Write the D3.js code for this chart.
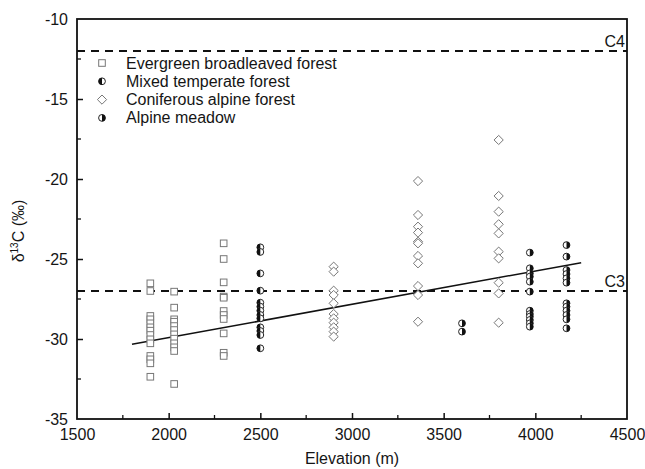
<!DOCTYPE html>
<html>
<head>
<meta charset="utf-8">
<script src="https://cdn.jsdelivr.net/npm/d3@7"></script>
<style>
  body { margin: 0; background: #fff; }
  text { font-family: "Liberation Sans", Arial, sans-serif; fill: #151515; }
</style>
</head>
<body>
<svg id="chart" width="645" height="469"></svg>
<script>
// Evergreen broadleaved forest (squares)
const evergreen1900 = [-26.52, -27.0, -28.56, -28.77, -29.02, -29.27, -29.48, -29.75, -30.02, -30.27, -31.06, -31.27, -31.52, -32.36];
const evergreen2030 = [-27.04, -28.04, -28.77, -28.92, -29.19, -29.44, -29.71, -29.98, -30.27, -30.52, -30.75, -32.81];
const evergreen2300 = [-24.02, -25.0, -26.46, -27.35, -27.42, -28.25, -28.5, -28.75, -29.65, -30.86, -31.06];
// Mixed temperate forest
const mixed2500 = [-24.27, -24.56, -25.9, -26.98, -27.73, -27.98, -28.23, -28.5, -28.71, -29.27, -29.5, -29.75, -30.58];
// Coniferous alpine forest (diamonds)
const conifer2900 = [-25.48, -25.79, -26.98, -27.25, -27.77, -28.44, -28.71, -28.98, -29.27, -29.54, -29.85];
const conifer3360 = [-20.13, -22.25, -22.98, -23.35, -23.92, -24.02, -24.81, -25.27, -26.69, -27.25, -28.92];
const conifer3800 = [-17.56, -21.06, -22.04, -22.83, -23.4, -24.54, -24.96, -26.48, -27.15, -28.98];
// Alpine meadow
const meadow3600 = [-29.02, -29.54];
const meadow3970 = [-24.6, -25.58, -25.9, -26.1, -26.42, -27.04, -28.23, -28.44, -28.6, -28.81, -29.02, -29.23];
const meadow4170 = [-24.13, -24.85, -25.69, -25.94, -26.21, -26.48, -27.77, -27.98, -28.23, -28.5, -28.77, -29.33];

const fitLine = [[1800, -30.33], [4250, -25.23]];
const refLines = [{ value: -12, label: 'C4' }, { value: -27, label: 'C3' }];
const legendLabels = ['Evergreen broadleaved forest', 'Mixed temperate forest', 'Coniferous alpine forest', 'Alpine meadow'];
const xTicks = [1500, 2000, 2500, 3000, 3500, 4000, 4500];
const yTicks = [-10, -15, -20, -25, -30, -35];

const groups = [
  { kind: 'square', elev: 1900, values: evergreen1900 },
  { kind: 'square', elev: 2030, values: evergreen2030 },
  { kind: 'square', elev: 2300, values: evergreen2300 },
  { kind: 'mixed', elev: 2500, values: mixed2500 },
  { kind: 'diamond', elev: 2900, values: conifer2900 },
  { kind: 'diamond', elev: 3360, values: conifer3360 },
  { kind: 'diamond', elev: 3800, values: conifer3800 },
  { kind: 'meadow', elev: 3600, values: meadow3600 },
  { kind: 'meadow', elev: 3970, values: meadow3970 },
  { kind: 'meadow', elev: 4170, values: meadow4170 }
];

const FONT = 16;
const svg = d3.select('#chart');
const x = d3.scaleLinear().domain([1500, 4500]).range([77, 627]);
const y = d3.scaleLinear().domain([-35, -10]).range([419, 19]);

// minor ticks
const g = svg.append('g');
g.selectAll('.xminor').data(d3.range(1750, 4500, 500)).join('line')
  .attr('x1', d => x(d)).attr('x2', d => x(d)).attr('y1', 419).attr('y2', 415)
  .attr('stroke', '#111').attr('stroke-width', 1.3);
g.selectAll('.yminor').data(d3.range(-32.5, -10, 5)).join('line')
  .attr('y1', d => y(d)).attr('y2', d => y(d)).attr('x1', 77).attr('x2', 81)
  .attr('stroke', '#111').attr('stroke-width', 1.3);

const xAxis = svg.append('g').attr('transform', 'translate(0,419)')
  .call(d3.axisBottom(x).tickValues(xTicks).tickSizeInner(-6).tickSizeOuter(0).tickPadding(10).tickFormat(d3.format('d')));
const yAxis = svg.append('g').attr('transform', 'translate(77,0)')
  .call(d3.axisLeft(y).tickValues(yTicks).tickSizeInner(-6).tickSizeOuter(0).tickPadding(9).tickFormat(d => d3.format('d')(d).replace('−', '-')));
[xAxis, yAxis].forEach(a => {
  a.selectAll('text').attr('font-size', FONT).attr('fill', '#151515').style('font-family', '"Liberation Sans", Arial, sans-serif');
  a.selectAll('line').attr('stroke', '#111').attr('stroke-width', 1.5);
  a.select('.domain').attr('stroke', 'none');
});
xAxis.selectAll('.tick').filter(d => d === 1500 || d === 4500).select('line').remove();
yAxis.selectAll('.tick').filter(d => d === -10 || d === -35).select('line').remove();

// frame
svg.append('rect').attr('x', 77).attr('y', 19).attr('width', 550).attr('height', 400)
  .attr('fill', 'none').attr('stroke', '#111').attr('stroke-width', 1.8);

// reference lines
refLines.forEach(r => {
  svg.append('line').attr('x1', 77).attr('x2', 627).attr('y1', y(r.value)).attr('y2', y(r.value))
    .attr('stroke', '#111').attr('stroke-width', 2).attr('stroke-dasharray', '8,6');
  svg.append('text').attr('x', 625).attr('y', y(r.value) - 4).attr('text-anchor', 'end')
    .attr('font-size', FONT).text(r.label);
});

// regression line
svg.append('line')
  .attr('x1', x(fitLine[0][0])).attr('y1', y(fitLine[0][1]))
  .attr('x2', x(fitLine[1][0])).attr('y2', y(fitLine[1][1]))
  .attr('stroke', '#111').attr('stroke-width', 1.5);

function drawMarker(sel, kind, cx, cy) {
  if (kind === 'square') {
    sel.append('rect').attr('x', cx - 3.3).attr('y', cy - 3.3).attr('width', 6.6).attr('height', 6.6)
      .attr('fill', '#fff').attr('stroke', '#777').attr('stroke-width', 1);
  } else if (kind === 'diamond') {
    const s = 4.6;
    sel.append('path').attr('d', `M${cx},${cy - s}L${cx + s},${cy}L${cx},${cy + s}L${cx - s},${cy}Z`)
      .attr('fill', '#fff').attr('stroke', '#777').attr('stroke-width', 1);
  } else {
    const r = 3.4;
    const leftDark = kind === 'mixed';
    sel.append('circle').attr('cx', cx).attr('cy', cy).attr('r', r)
      .attr('fill', '#fff').attr('stroke', '#222').attr('stroke-width', 1);
    const sweep = leftDark ? 0 : 1;
    sel.append('path')
      .attr('d', `M${cx},${cy - r}A${r},${r} 0 0 ${sweep} ${cx},${cy + r}Z`)
      .attr('fill', '#111');
  }
}

const pts = svg.append('g');
groups.forEach(grp => {
  grp.values.forEach(v => drawMarker(pts, grp.kind, x(grp.elev), y(v)));
});

// legend
const kinds = ['square', 'mixed', 'diamond', 'meadow'];
const leg = svg.append('g');
legendLabels.forEach((lab, i) => {
  const ly = 63 + i * 18.3;
  drawMarker(leg, kinds[i], 102, ly);
  leg.append('text').attr('x', 126).attr('y', ly + 5.5).attr('font-size', FONT).text(lab);
});

// axis titles
svg.append('text').attr('x', 352).attr('y', 464).attr('text-anchor', 'middle')
  .attr('font-size', FONT).text('Elevation (m)');
const yt = svg.append('text').attr('transform', 'translate(24,231) rotate(-90)')
  .attr('text-anchor', 'middle').attr('font-size', FONT);
yt.append('tspan').text('δ');
yt.append('tspan').attr('dy', -6).attr('font-size', 10).text('13');
yt.append('tspan').attr('dy', 6).text('C (‰)');
</script>
</body>
</html>
